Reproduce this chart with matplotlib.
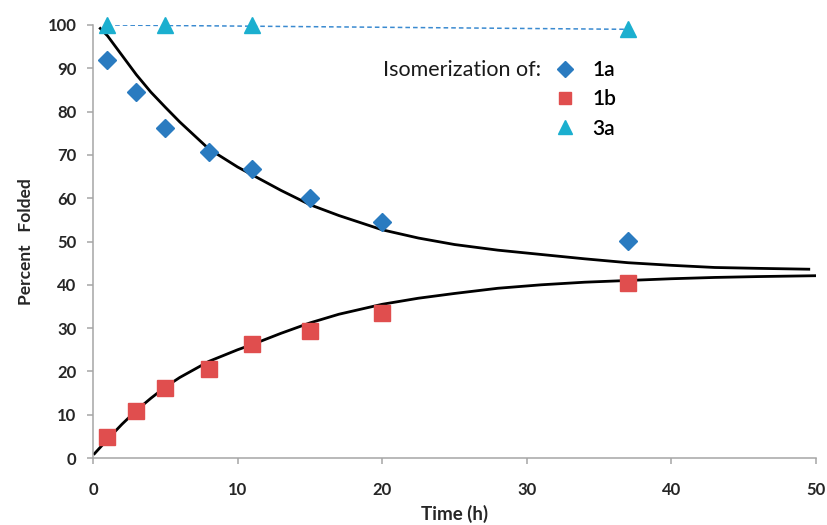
import matplotlib.pyplot as plt
from matplotlib.lines import Line2D

plt.rcParams['font.family'] = ['Lato', 'DejaVu Sans']

# measured points
t_1a = [1, 3, 5, 8, 11, 15, 20, 37]
pf_1a = [92, 84.5, 76.3, 70.6, 66.7, 60.1, 54.6, 50.1]
t_1b = [1, 3, 5, 8, 11, 15, 20, 37]
pf_1b = [4.8, 10.8, 16.2, 20.5, 26.4, 29.4, 33.4, 40.4]
t_3a = [1, 5, 11, 37]
pf_3a = [100, 100, 100, 99]

# fitted curves
fit_up_t = [0.5, 1, 2, 3, 4, 5, 6, 8, 10, 11, 13, 15, 17, 20, 22.5, 25, 28, 31,
            34, 37, 40, 43, 46, 49.5]
fit_up_y = [99.2, 97.5, 93.0, 88.5, 84.5, 81.0, 77.6, 71.4, 67.2, 65.4, 61.8,
            58.5, 56.0, 52.7, 50.8, 49.3, 48.0, 47.0, 46.0, 45.1, 44.5, 44.0,
            43.8, 43.6]
fit_lo_t = [0.1, 1, 2, 3, 4, 5, 6, 8, 10, 11, 13, 15, 17, 20, 22.5, 25, 28, 31,
            34, 37, 40, 43, 46, 50]
fit_lo_y = [1.0, 4.3, 7.8, 11.0, 13.8, 16.4, 18.6, 22.3, 25.0, 26.2, 28.8,
            31.2, 33.2, 35.5, 36.9, 38.0, 39.2, 40.0, 40.6, 41.0, 41.4, 41.7,
            41.9, 42.1]

c_1a = '#2A7BC0'
c_1b = '#E04E4E'
c_3a = '#1BAFCF'
txt = '#262626'

fig = plt.figure(figsize=(8.27, 5.25), dpi=100)
ax = fig.add_axes([0.1125, 0.1276, 0.8742, 0.8248])

ax.plot(fit_up_t, fit_up_y, color='black', lw=2.0, zorder=2)
ax.plot(fit_lo_t, fit_lo_y, color='black', lw=2.0, zorder=2)
ax.plot([t_3a[0], t_3a[-1]], [pf_3a[0], pf_3a[-1]], color='#3A8AD0', lw=1.1,
        ls=(0, (3, 2)), zorder=2)

ax.plot(t_1a, pf_1a, 'D', color=c_1a, ms=9, ls='none', zorder=3, clip_on=False)
ax.plot(t_1b, pf_1b, 's', color=c_1b, ms=11.5, ls='none', zorder=3, clip_on=False)
ax.plot(t_3a, pf_3a, '^', color=c_3a, ms=12, ls='none', zorder=3, clip_on=False)

ax.set_xlim(0, 50)
ax.set_ylim(0, 100)
ax.set_xticks(range(0, 51, 10))
ax.set_yticks(range(0, 101, 10))

for s in ['top', 'right']:
    ax.spines[s].set_visible(False)
for s in ['left', 'bottom']:
    ax.spines[s].set_color('#A6A6A6')
    ax.spines[s].set_linewidth(1.1)
ax.tick_params(colors='#A6A6A6', length=4, width=1.1, labelcolor=txt,
               labelsize=12)
ax.tick_params(axis='y', pad=8)
ax.tick_params(axis='x', pad=13)
for lab in ax.get_xticklabels() + ax.get_yticklabels():
    lab.set_fontweight('bold')

ax.set_xlabel('Time (h)', fontsize=13.5, fontweight='bold', color=txt)
ax.set_ylabel('Percent   Folded', fontsize=12.5, fontweight='bold', color=txt)
ax.xaxis.set_label_coords(0.5, -0.108)
ax.yaxis.set_label_coords(-0.082, 0.5)

handles = [
    Line2D([], [], marker='D', color=c_1a, ls='none', ms=8),
    Line2D([], [], marker='s', color=c_1b, ls='none', ms=9),
    Line2D([], [], marker='^', color=c_3a, ls='none', ms=10),
]
ax.legend(handles, ['1a', '1b', '3a'], frameon=False,
          prop={'size': 15, 'weight': 'semibold'},
          loc='upper left', bbox_to_anchor=(555 / 827, 1 - 60 / 525),
          bbox_transform=fig.transFigure, handletextpad=0.8,
          labelspacing=0.45, borderpad=0, borderaxespad=0, handlelength=1.0)
fig.text(541 / 827, 1 - 70 / 525, 'Isomerization of:', fontsize=15.5,
         ha='right', va='center', color='#1a1a1a')

fig.savefig('out.png', dpi=100)
